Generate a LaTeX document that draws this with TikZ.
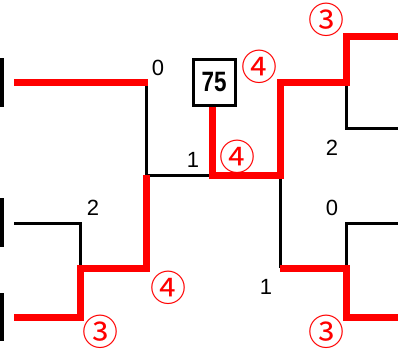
\documentclass[tikz,border=0pt]{standalone}
\usepackage{fontspec}
\setmainfont{Liberation Sans}
\newfontfamily\cjkfont{Noto Sans CJK JP}
\begin{document}
\begin{tikzpicture}[x=1pt,y=-1pt,
  win/.style={draw=red,line width=7pt,line join=miter},
  lose/.style={draw=black,line width=3pt,line join=miter},
  barline/.style={draw=black,line width=4pt},
  num/.style={font=\fontsize{22}{22}\selectfont,inner sep=0pt},
  circ/.style={font=\cjkfont\fontsize{36}{36}\selectfont,text=red,inner sep=0pt},
  scorebox/.style={draw=black,line width=3pt,minimum width=42pt,minimum height=46pt,inner sep=0pt,font=\bfseries\fontsize{28}{28}\selectfont}]
\useasboundingbox (0,0) rectangle (398,349);
% entry points
\coordinate (a1) at (14,82);
\coordinate (a2) at (14,223);
\coordinate (a3) at (14,317);
\coordinate (b1) at (398,36);
\coordinate (b2) at (398,128);
\coordinate (b3) at (398,223);
\coordinate (b4) at (398,317);
% bars
\draw[barline] (1.5,58) -- (1.5,107);
\draw[barline] (1.5,198) -- (1.5,247);
\draw[barline] (1.5,293) -- (1.5,341);
% junctions
\coordinate (l1) at (146,82);
\coordinate (lm) at (146,175);
\coordinate (l2) at (80,223);
\coordinate (l3) at (80,268);
\coordinate (l4) at (80,317);
\coordinate (l5) at (146,268);
\coordinate (c) at (212,175);
\coordinate (r0) at (280,175);
\coordinate (r1) at (280,82);
\coordinate (r2) at (346,82);
\coordinate (r3) at (346,36);
\coordinate (r4) at (346,128);
\coordinate (r5) at (280,268);
\coordinate (r6) at (346,268);
\coordinate (r7) at (346,317);
\coordinate (r8) at (346,223);
\node[scorebox] (score) at (214,82) {\scalebox{0.8}[1]{75}};
% black lines
\draw[lose] (l1) -- (lm);
\draw[lose] (a2) -- (l2) -- (l3);
\draw[lose] (lm) -- (c);
\draw[lose] (r2) -- (r4) -- (b2);
\draw[lose] (r0) -- (r5);
\draw[lose] (r6) -- (r8) -- (b3);
% red lines
\draw[win] (a1) -- ([xshift=2pt]l1);
\draw[win] (a3) -- (l4) -- (l3) -- (l5) -- (lm);
\draw[win] (c |- score.south) -- (c) -- (r0) -- (r1) -- (r2) -- (r3) -- (b1);
\draw[win] (r5) -- (r6) -- (r7) -- (b4);
% labels
\node[num] (n1) at (158,68) {0};
\node[num] (n2) at (193,160) {1};
\node[num] (n3) at (93,208) {2};
\node[num] (n4) at (332,148) {2};
\node[num] (n5) at (332,208) {0};
\node[num] (n6) at (266,287) {1};
\node[circ] (c1) at (259,67) {④};
\node[circ] (c2) at (326,20) {③};
\node[circ] (c3) at (237,157) {④};
\node[circ] (c4) at (168,288) {④};
\node[circ] (c5) at (100,332) {③};
\node[circ] (c6) at (326,332) {③};
\end{tikzpicture}
\end{document}
